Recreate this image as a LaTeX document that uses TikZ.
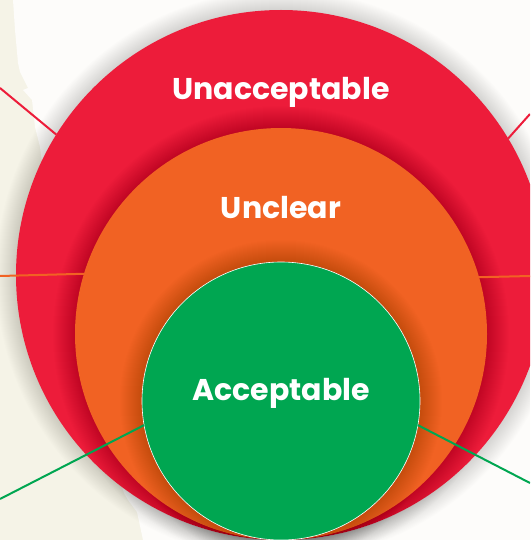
\documentclass[tikz,border=0pt]{standalone}
\usepackage{fontspec}
\setmainfont{Poppins}

\definecolor{unaccred}{RGB}{237,28,58}
\definecolor{unclorange}{RGB}{241,98,35}
\definecolor{accgreen}{RGB}{0,166,81}
\definecolor{cream}{RGB}{245,243,231}
\definecolor{paper}{RGB}{253,252,250}

\begin{document}
\begin{tikzpicture}[x=1pt,y=-1pt,
  zone/.style={circle,inner sep=0pt,outer sep=0pt},
  zonetext/.style={text=white,anchor=base,font=\bfseries\fontsize{30}{30}\selectfont},
  leader/.style={line width=2pt}]
\useasboundingbox (0,0) rectangle (530,540);
\clip (0,0) rectangle (530,540);
% Draw the backdrop: cream sheet with torn white paper over it
\fill[cream] (0,0) rectangle (530,540);
\fill[paper] (13,0) -- (530,0) -- (530,540) -- (143,540) -- (137,512) -- (128,500)
  -- (124,493) -- (60,300) -- (40,147) -- (35,127) -- (32,100) -- (23,90) -- (28,88)
  -- (20,72) -- (18,63) -- (15,30) -- cycle;
% Draw the three zones, each with a soft shadow
\foreach \k in {1,...,20}
  \fill[black,opacity=.007] (281,275) circle[radius=265+\k];
\node[zone,fill=unaccred,minimum size=530pt] (unacc) at (281,275) {};
\foreach \k in {1,...,22}
  \fill[black,opacity=.009] (281,334) circle[radius=206+\k];
\node[zone,fill=unclorange,minimum size=412pt] (uncl) at (281,334) {};
\foreach \k in {1,...,22}
  \fill[black,opacity=.008] (281,401) circle[radius=139+\k];
\node[zone,fill=accgreen,draw=white,line width=.6pt,minimum size=278pt] (acc) at (281,401) {};
% Draw the leader lines
\coordinate (redwest) at (0,88);
\coordinate (redeast) at (530,114);
\coordinate (orangewest) at (0,276);
\coordinate (orangeeast) at (530,276);
\coordinate (greenwest) at (0,499);
\coordinate (greeneast) at (530,483);
\draw[leader,unaccred] (redwest) -- (unacc.148.5);
\draw[leader,unaccred] (redeast) -- (unacc.31.5);
\draw[leader,unclorange] (orangewest) -- (uncl.163.65);
\draw[leader,unclorange] (orangeeast) -- (uncl.16.35);
\draw[leader,accgreen] (greenwest) -- (acc.190);
\draw[leader,accgreen] (greeneast) -- (acc.350);
% Labels
\node[zonetext] (unacclabel) at (281,100) {Unacceptable};
\node[zonetext] (uncllabel) at (281,218) {Unclear};
\node[zonetext] (acclabel) at (281,400) {Acceptable};
\end{tikzpicture}
\end{document}
